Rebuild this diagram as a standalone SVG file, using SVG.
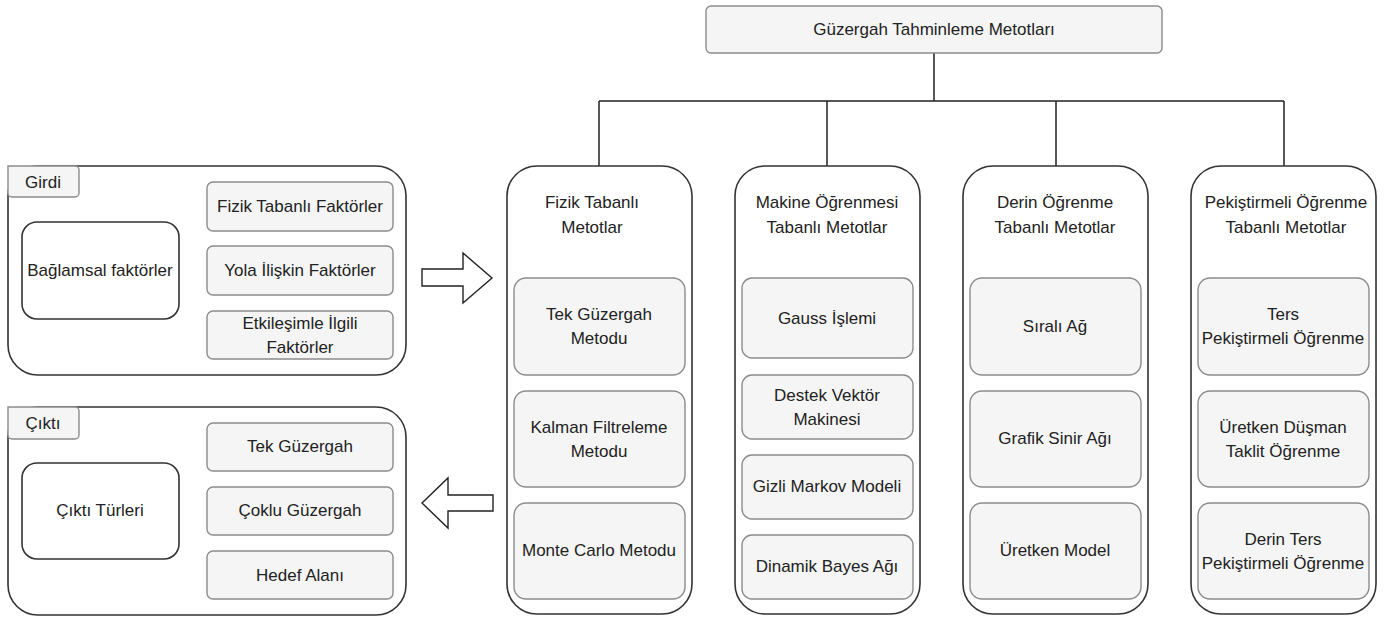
<svg xmlns="http://www.w3.org/2000/svg" width="1386" height="618" viewBox="0 0 1386 618">
<style>
text{font-family:"Liberation Sans",Arial,sans-serif;font-size:17px;fill:#222;text-anchor:middle;dominant-baseline:central}
.outer{fill:#fff;stroke:#333;stroke-width:1.6}
.inner{fill:#f5f5f5;stroke:#8c8c8c;stroke-width:1.4}
.white{fill:#fff;stroke:#333;stroke-width:1.6}
.conn{fill:none;stroke:#222;stroke-width:1.5}
.arrow{fill:#fff;stroke:#222;stroke-width:1.4}
</style>
<rect width="1386" height="618" fill="#fff"/>
<g id="connectors">
<path class="conn" d="M934 53V101M599 101H1284M599 101V166M827 101V166M1056 101V166M1284 101V166"/>
<polygon class="arrow" points="422,269 463,269 463,253 492,278 463,303 463,286 422,286"/>
<polygon class="arrow" points="493,495 448,495 448,478 422,503 448,528 448,511 493,511"/>
</g>
<g id="root">
<rect class="inner" x="706" y="6" width="456" height="47" rx="5"/>
<text x="934" y="29">Güzergah Tahminleme Metotları</text>
</g>
<g id="girdi">
<rect class="outer" x="8" y="166" width="398" height="209" rx="30"/>
<path class="inner" d="M8 166H75a4 4 0 0 1 4 4V193a4 4 0 0 1-4 4H12a4 4 0 0 1-4-4Z"/>
<text x="43" y="182">Girdi</text>
<rect class="white" x="22" y="222" width="157" height="97" rx="15"/>
<text x="100" y="270">Bağlamsal faktörler</text>
<rect class="inner" x="207" y="182" width="186" height="49" rx="6"/>
<text x="300" y="206">Fizik Tabanlı Faktörler</text>
<rect class="inner" x="207" y="246" width="186" height="49" rx="6"/>
<text x="300" y="270">Yola İlişkin Faktörler</text>
<rect class="inner" x="207" y="311" width="186" height="48" rx="6"/>
<text x="300" y="323">Etkileşimle İlgili</text>
<text x="300" y="347">Faktörler</text>
</g>
<g id="cikti">
<rect class="outer" x="8" y="407" width="398" height="208" rx="30"/>
<path class="inner" d="M8 407H75a4 4 0 0 1 4 4V435a4 4 0 0 1-4 4H12a4 4 0 0 1-4-4Z"/>
<text x="43" y="423">Çıktı</text>
<rect class="white" x="22" y="463" width="157" height="96" rx="15"/>
<text x="100" y="510">Çıktı Türleri</text>
<rect class="inner" x="207" y="423" width="186" height="48" rx="6"/>
<text x="300" y="446">Tek Güzergah</text>
<rect class="inner" x="207" y="487" width="186" height="48" rx="6"/>
<text x="300" y="510">Çoklu Güzergah</text>
<rect class="inner" x="207" y="551" width="186" height="48" rx="6"/>
<text x="300" y="575">Hedef Alanı</text>
</g>
<g id="col-fizik">
<rect class="outer" x="507" y="166" width="185" height="448" rx="30"/>
<text x="592" y="202">Fizik Tabanlı</text>
<text x="592" y="227">Metotlar</text>
<rect class="inner" x="514" y="278" width="171" height="97" rx="12"/>
<text x="599" y="314">Tek Güzergah</text>
<text x="599" y="338">Metodu</text>
<rect class="inner" x="514" y="391" width="171" height="96" rx="12"/>
<text x="599" y="427">Kalman Filtreleme</text>
<text x="599" y="451">Metodu</text>
<rect class="inner" x="514" y="503" width="171" height="96" rx="12"/>
<text x="599" y="550">Monte Carlo Metodu</text>
</g>
<g id="col-makine">
<rect class="outer" x="735" y="166" width="185" height="448" rx="30"/>
<text x="827" y="202">Makine Öğrenmesi</text>
<text x="827" y="227">Tabanlı Metotlar</text>
<rect class="inner" x="742" y="278" width="171" height="80" rx="10"/>
<text x="827" y="318">Gauss İşlemi</text>
<rect class="inner" x="742" y="375" width="171" height="64" rx="10"/>
<text x="827" y="395">Destek Vektör</text>
<text x="827" y="419">Makinesi</text>
<rect class="inner" x="742" y="455" width="171" height="64" rx="10"/>
<text x="827" y="486">Gizli Markov Modeli</text>
<rect class="inner" x="742" y="535" width="171" height="64" rx="10"/>
<text x="827" y="566">Dinamik Bayes Ağı</text>
</g>
<g id="col-derin">
<rect class="outer" x="963" y="166" width="185" height="448" rx="30"/>
<text x="1055" y="202">Derin Öğrenme</text>
<text x="1055" y="227">Tabanlı Metotlar</text>
<rect class="inner" x="970" y="278" width="171" height="97" rx="12"/>
<text x="1055" y="326">Sıralı Ağ</text>
<rect class="inner" x="970" y="391" width="171" height="96" rx="12"/>
<text x="1055" y="438">Grafik Sinir Ağı</text>
<rect class="inner" x="970" y="503" width="171" height="96" rx="12"/>
<text x="1055" y="550">Üretken Model</text>
</g>
<g id="col-pekistirmeli">
<rect class="outer" x="1191" y="166" width="185" height="448" rx="30"/>
<text x="1286" y="202">Pekiştirmeli Öğrenme</text>
<text x="1286" y="227">Tabanlı Metotlar</text>
<rect class="inner" x="1198" y="278" width="171" height="97" rx="12"/>
<text x="1283" y="314">Ters</text>
<text x="1283" y="338">Pekiştirmeli Öğrenme</text>
<rect class="inner" x="1198" y="391" width="171" height="96" rx="12"/>
<text x="1283" y="427">Üretken Düşman</text>
<text x="1283" y="451">Taklit Öğrenme</text>
<rect class="inner" x="1198" y="503" width="171" height="96" rx="12"/>
<text x="1283" y="539">Derin Ters</text>
<text x="1283" y="563">Pekiştirmeli Öğrenme</text>
</g>
</svg>
